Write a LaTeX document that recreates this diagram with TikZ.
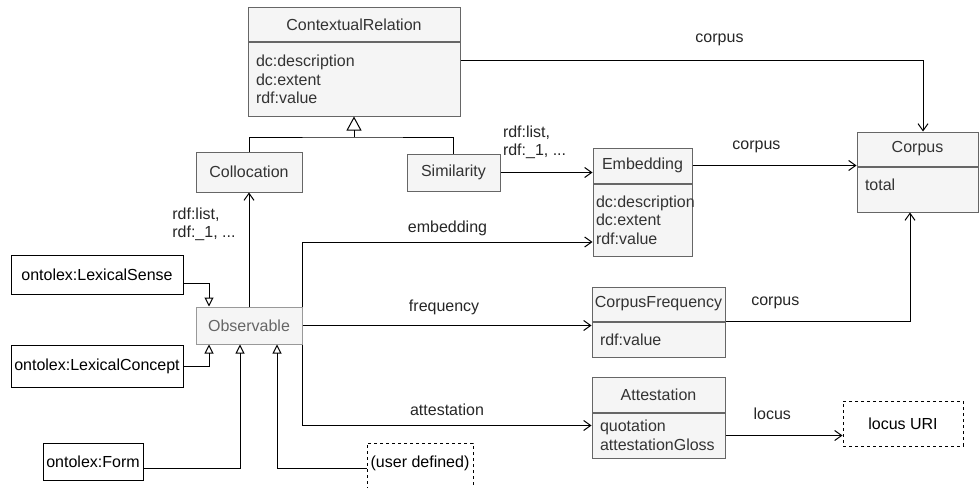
\documentclass[tikz,border=0pt]{standalone}
\usepackage{fontspec}
\setmainfont{Liberation Sans}
\usetikzlibrary{arrows.meta}

\definecolor{clsfill}{HTML}{F5F5F5}
\definecolor{clsline}{HTML}{666666}
\definecolor{clstext}{HTML}{333333}
\definecolor{obsline}{HTML}{999999}
\definecolor{obstext}{HTML}{666666}

\tikzset{
  every node/.style={font=\fontsize{16}{18.5}\selectfont},
  cls/.style={draw=clsline, fill=clsfill, text=clstext, line width=1pt, inner sep=0pt},
  attr/.style={cls, align=left, text width=#1, inner xsep=8pt, inner ysep=0pt, anchor=north},
  ext/.style={draw=black, fill=white, text=black, line width=1pt, inner sep=0pt},
  userdef/.style={ext, dash pattern=on 3pt off 3pt},
  assoc/.style={line width=1pt, -{Straight Barb[length=7pt,width=10pt]}},
  inherit/.style={line width=1pt, -{Triangle[open,length=14pt,width=15pt]}},
  subcls/.style={line width=1pt, -{Triangle[open,length=9pt,width=9pt]}},
  lbl/.style={text=black!85, inner sep=0pt},
}

\begin{document}
\begin{tikzpicture}[x=1pt, y=-1pt]
  \clip (0,0) rectangle (979,487); % page size

  % classes
  \node[cls, minimum width=212, minimum height=34] (cr) at (354,25) {ContextualRelation};
  \node[attr=196pt, minimum height=73] (crattr) at (cr.south) {dc:description\\dc:extent\\rdf:value};
  \node[cls, minimum width=106, minimum height=40] (coll) at (249,172) {Collocation};
  \node[cls, minimum width=93, minimum height=37] (sim) at (453.5,172.5) {Similarity};
  \node[cls, minimum width=99, minimum height=35] (emb) at (642.5,165.5) {Embedding};
  \node[attr=93pt, inner xsep=3pt, minimum height=72] (embattr) at (emb.south) {dc:description\\dc:extent\\rdf:value};
  \node[cls, minimum width=121, minimum height=34] (corpus) at (917.5,149) {Corpus};
  \node[attr=105pt, minimum height=45, text depth=9pt] (corpusattr) at (corpus.south) {total};
  \node[cls, minimum width=133, minimum height=34] (cf) at (658.5,304) {CorpusFrequency};
  \node[attr=117pt, minimum height=35] (cfattr) at (cf.south) {rdf:value};
  \node[cls, minimum width=133, minimum height=35] (att) at (658.5,394.5) {Attestation};
  \node[attr=117pt, minimum height=45] (attattr) at (att.south) {quotation\\attestationGloss};
  \node[userdef, minimum width=120, minimum height=45] (locus) at (903,423.5) {locus URI};
  \node[cls, draw=obsline, text=obstext, minimum width=106, minimum height=37] (obs) at (249,325.5) {Observable};

  % external classes
  \node[ext, minimum width=172, minimum height=39] (sense) at (97,274.5) {ontolex:LexicalSense};
  \node[ext, minimum width=172, minimum height=42] (concept) at (97,366) {ontolex:LexicalConcept};
  \node[ext, minimum width=100, minimum height=37] (form) at (93,461.5) {ontolex:Form};
  \node[userdef, minimum width=106, minimum height=50, text depth=12pt] (user) at (420,468) {(user defined)};

  % subclasses of ContextualRelation
  \coordinate (join) at (crattr.south |- 0,137);
  \draw[inherit] (join) -- (crattr.south);
  \draw[line width=1pt] (coll.north) |- (join) -| (sim.north);

  % subclasses of Observable
  \draw[subcls] ([yshift=-8.5pt]sense.east) -| ([xshift=-40pt]obs.north);
  \draw[subcls] (concept.east) -| ([xshift=-40pt]obs.south);
  \draw[subcls] ([yshift=-6.5pt]form.east) -| ([xshift=-9pt]obs.south);
  \draw[subcls] (user.west) -| ([xshift=28pt]obs.south);

  % properties
  \draw[assoc] (obs.north) -- node[lbl, pos=0.72, anchor=east, xshift=-13pt, align=left] {rdf:list,\\rdf:\_1, ...} (coll.south);
  \draw[assoc] (sim.east) -- node[lbl, pos=0, anchor=west, xshift=2pt, yshift=30pt, align=left] {rdf:list,\\rdf:\_1, ...} (sim.east -| emb.west);
  \draw[assoc] (obs.north east) |- node[lbl, pos=0.75, yshift=14pt] {embedding} ([yshift=-22pt]embattr.west);
  \draw[assoc] (obs.east) -- node[lbl, pos=0.49, yshift=18pt] {frequency} (obs.east -| cfattr.west);
  \draw[assoc] (obs.south east) |- node[lbl, pos=0.75, yshift=16pt] {attestation} ([yshift=10pt]attattr.west);
  \draw[assoc] (crattr.east |- 0,61) -| node[lbl, pos=0.28, yshift=21pt] {corpus} ([xshift=5.5pt]corpus.north);
  \draw[assoc] (emb.east) -- node[lbl, pos=0.39, yshift=19pt] {corpus} (emb.east -| corpus.south west);
  \draw[assoc] (cf.south east) -| node[lbl, pos=0.135, yshift=19pt] {corpus} ([xshift=-7.5pt]corpusattr.south);
  \draw[assoc] (attattr.east) -- node[lbl, pos=0.4, yshift=22pt] {locus} (attattr.east -| locus.west);
\end{tikzpicture}
\end{document}
